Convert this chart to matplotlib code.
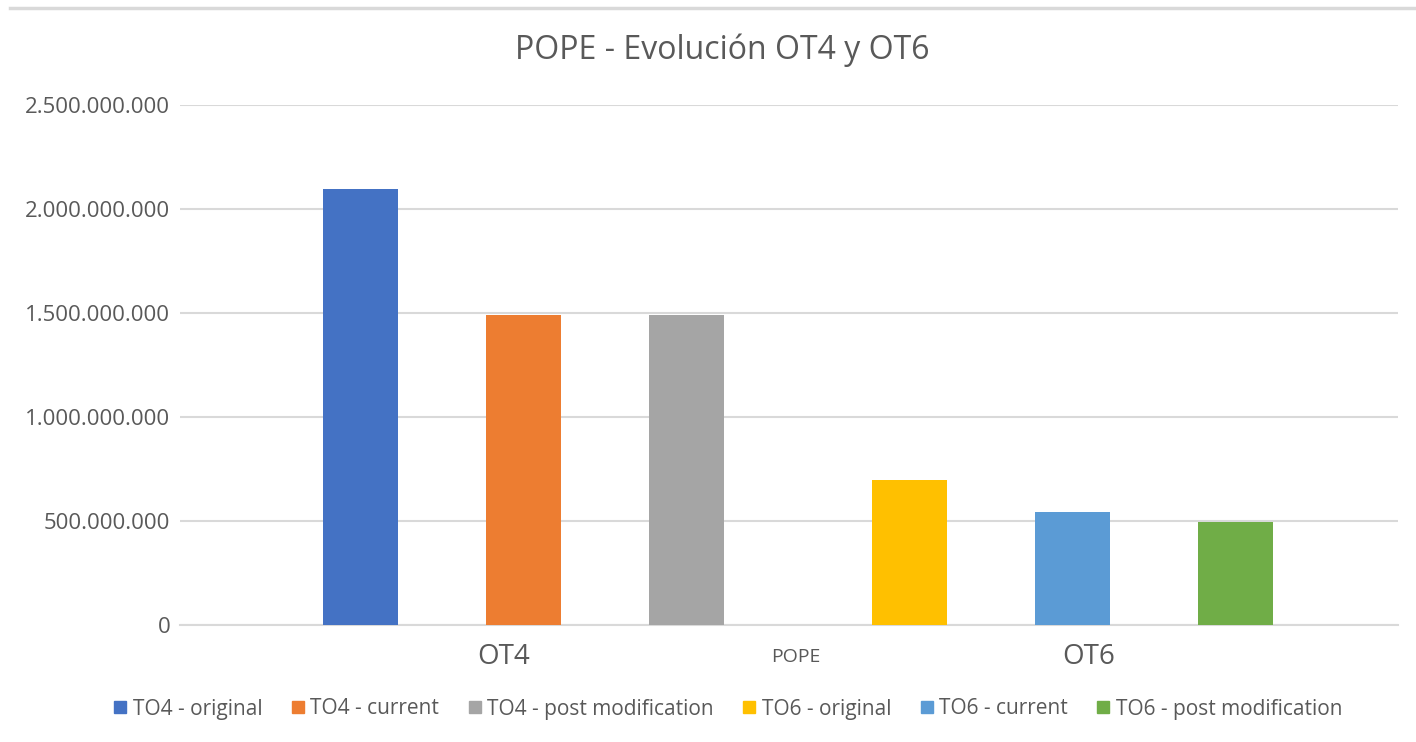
import matplotlib.pyplot as plt
from matplotlib.ticker import FuncFormatter
from matplotlib.lines import Line2D
import numpy as np

# datos
series = ["TO4 - original", "TO4 - current", "TO4 - post modification",
          "TO6 - original", "TO6 - current", "TO6 - post modification"]
values = [2095000000, 1490000000, 1490000000, 695000000, 545000000, 495000000]
colors = ["#4472C4", "#ED7D31", "#A5A5A5", "#FFC000", "#5B9BD5", "#70AD47"]
categories = ["OT4", "POPE", "OT6"]
y_ticks = [0, 500000000, 1000000000, 1500000000, 2000000000, 2500000000]

plt.rcParams['font.family'] = ['Open Sans', 'DejaVu Sans']
txt = '#595959'
grid = '#D9D9D9'

fig = plt.figure(figsize=(14.16, 7.42), dpi=100)
ax = fig.add_axes([180 / 1416, 1 - 625 / 742, (1398 - 180) / 1416, (625 - 105) / 742])

# posiciones: tres barras por grupo, hueco extra entre grupos
gap = 0.37
x = np.array([i + (gap if i >= 3 else 0) for i in range(len(values))])
for xi, v, c, s in zip(x, values, colors, series):
    ax.bar(xi, v, width=0.46, color=c, label=s, zorder=3)

ax.set_xlim(-1.11, 6.37)
ax.set_ylim(0, 2500000000)
ax.set_yticks(y_ticks)
ax.yaxis.set_major_formatter(FuncFormatter(lambda v, p: f"{int(v):,}".replace(",", ".")))
ax.tick_params(axis='y', length=0, pad=7, labelsize=16, labelcolor=txt)
ax.grid(axis='y', color=grid, linewidth=1.5, zorder=0)
for sp in ['top', 'right', 'left']:
    ax.spines[sp].set_visible(False)
ax.spines['bottom'].set_color(grid)
ax.spines['bottom'].set_linewidth(1.5)

ax.set_xticks([0.88, 2.67, 4.47])
ax.set_xticklabels(categories)
ax.tick_params(axis='x', length=0, pad=8, labelcolor=txt)
for lab, fs in zip(ax.get_xticklabels(), [20, 14, 20]):
    lab.set_fontsize(fs)
    lab.set_verticalalignment('center')
    lab.set_y(-0.04)

fig.text(722 / 1416, 1 - 50 / 742, "POPE - Evolución OT4 y OT6", ha='center', va='center',
         fontsize=23, color=txt)

handles = [Line2D([], [], marker='s', linestyle='none', markersize=9, color=c) for c in colors]
fig.legend(handles, series, loc='center', bbox_to_anchor=(726 / 1416, 1 - 709 / 742), ncol=6,
           frameon=False, fontsize=15, labelcolor=txt, handletextpad=0.1, columnspacing=1.2,
           handlelength=1.0)

fig.add_artist(Line2D([10 / 1416, 1], [1 - 8 / 742, 1 - 8 / 742], color=grid, linewidth=2.5))

fig.savefig("out.png", dpi=100)
